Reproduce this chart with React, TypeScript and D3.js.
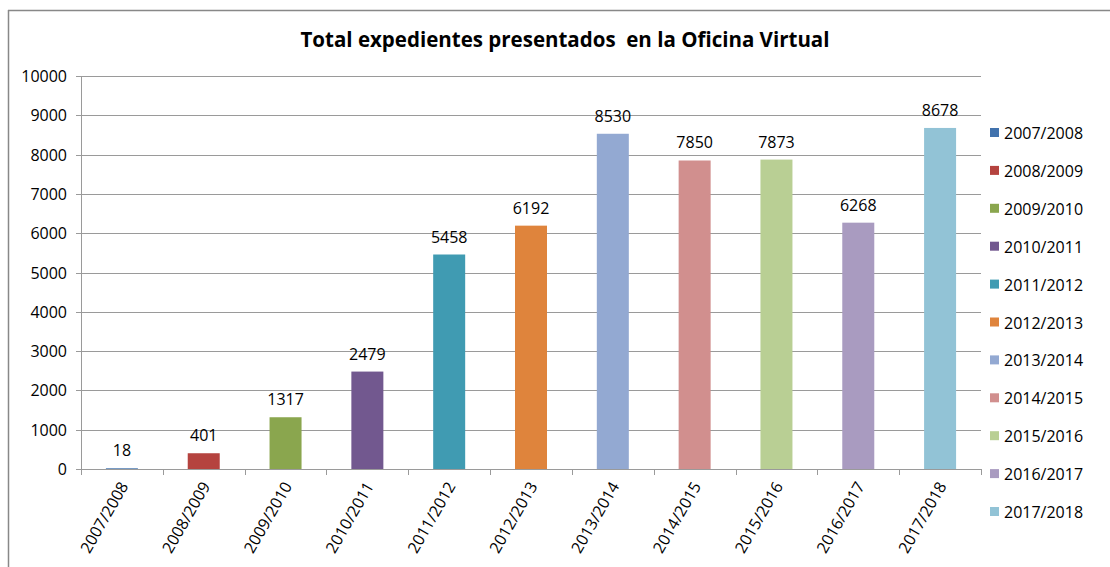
import React from "react";
import * as d3 from "d3";

const categories = ["2007/2008","2008/2009","2009/2010","2010/2011","2011/2012","2012/2013","2013/2014","2014/2015","2015/2016","2016/2017","2017/2018"];
const values = [18, 401, 1317, 2479, 5458, 6192, 8530, 7850, 7873, 6268, 8678];
const colors = ["#4172ad","#b5433f","#8aa64e","#72588f","#409bb2","#df843c","#93a9d2","#d18f8e","#b9cf94","#a99bc0","#92c3d6"];
const yTicks = [0,1000,2000,3000,4000,5000,6000,7000,8000,9000,10000];
const title = "Total expedientes presentados  en la Oficina Virtual";

const W = 1110, H = 567;
const m = { left: 81, right: 981, top: 76, bottom: 469 };
const FONT = "'Open Sans', 'Noto Sans', sans-serif";

export default function App() {
  const x = d3.scaleBand<string>().domain(categories).range([m.left, m.right]).paddingInner(0).paddingOuter(0);
  const y = d3.scaleLinear().domain([0, 10000]).range([m.bottom, m.top]);
  const bw = 32;
  return (
    <svg width={W} height={H} style={{ position: "absolute", left: 0, top: 0, background: "#fff" }}>
      <rect x={0} y={0} width={W} height={H} fill="#fff" />
      <line x1={8.5} y1={10} x2={8.5} y2={H} stroke="#888" strokeWidth={1.5} />
      <line x1={8} y1={10.5} x2={W} y2={10.5} stroke="#888" strokeWidth={1.5} />
      <text x={565} y={47} textAnchor="middle" fontFamily={FONT} fontWeight="bold" fontSize={20.5} fill="#000" xmlSpace="preserve">{title}</text>
      {yTicks.map(t => (
        <g key={t}>
          <line x1={m.left} x2={m.right} y1={Math.round(y(t)) + 0.5} y2={Math.round(y(t)) + 0.5} stroke="#9a9a9a" strokeWidth={1} />
          <line x1={m.left - 5} x2={m.left} y1={Math.round(y(t)) + 0.5} y2={Math.round(y(t)) + 0.5} stroke="#9a9a9a" />
          <text x={m.left - 14} y={y(t) + 6} textAnchor="end" fontFamily={FONT} fontSize={16} fill="#000">{t}</text>
        </g>
      ))}
      <line x1={m.left + 0.5} x2={m.left + 0.5} y1={m.top} y2={m.bottom} stroke="#9a9a9a" />
      {categories.concat([""]).map((c, i) => {
        const xx = m.left + i * x.bandwidth();
        return <line key={"t" + i} x1={Math.round(xx) + 0.5} x2={Math.round(xx) + 0.5} y1={m.bottom} y2={m.bottom + 6} stroke="#9a9a9a" />;
      })}
      {categories.map((c, i) => {
        const cx = (x(c) as number) + x.bandwidth() / 2;
        return (
          <g key={c}>
            <rect x={cx - bw / 2} y={y(values[i])} width={bw} height={m.bottom - y(values[i])} fill={colors[i]} />
            <text x={cx} y={y(values[i]) - 12} textAnchor="middle" fontFamily={FONT} fontSize={16} fill="#000">{values[i]}</text>
            <text transform={`translate(${cx + 7},${m.bottom + 17}) rotate(-60)`} textAnchor="end" fontFamily={FONT} fontSize={16} fill="#000">{c}</text>
          </g>
        );
      })}
      {categories.map((c, i) => {
        const ly = 133 + i * 37.9;
        return (
          <g key={"l" + c}>
            <rect x={990} y={ly - 5} width={9} height={9} fill={colors[i]} />
            <text x={1004} y={ly + 6} fontFamily={FONT} fontSize={16} fill="#000">{c}</text>
          </g>
        );
      })}
    </svg>
  );
}
